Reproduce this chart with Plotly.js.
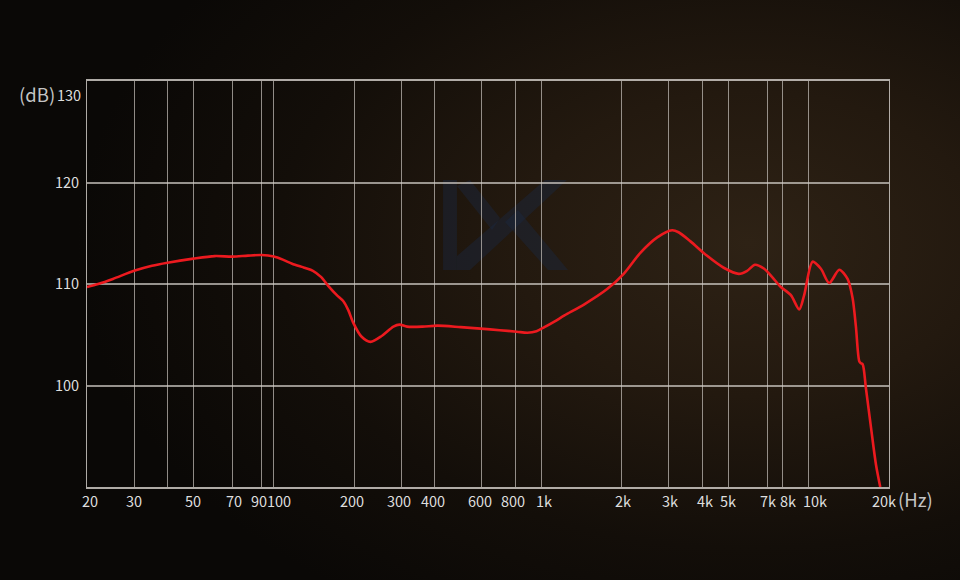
<!DOCTYPE html>
<html>
<head>
<meta charset="utf-8">
<script src="https://cdn.plot.ly/plotly-3.0.1.min.js"></script>
<style>
  html, body { margin: 0; padding: 0; width: 960px; height: 580px; overflow: hidden; background: #0a0806; }
  #chart {
    width: 960px; height: 580px;
    background:
      radial-gradient(ellipse 70% 75% at 78% 42%, #2e2215 0%, #23190f 35%, #130e09 70%, #0a0806 100%);
  }
</style>
</head>
<body>
<div id="chart"></div>
<script>
// Frequency response (Hz, dB)
const freqHz = [20, 22, 25, 30, 35, 40, 50, 60, 70, 80, 90, 100, 108, 117, 130, 140, 150, 160, 172, 182, 190, 198, 213, 230, 254, 280, 295, 315, 360, 409, 500, 594, 700, 811, 888, 960, 1028, 1120, 1222, 1450, 1765, 2035, 2354, 2717, 3088, 3266, 3618, 4164, 4816, 5489, 5895, 6308, 6824, 7300, 7880, 8592, 9228, 9632, 10358, 11126, 11952, 13030, 14000, 14620, 15040, 15480, 15700, 15940, 16400, 17140, 17880, 18550];
const levelDb = [109.7, 110.0, 110.5, 111.3, 111.8, 112.1, 112.5, 112.75, 112.7, 112.8, 112.85, 112.7, 112.4, 112.0, 111.6, 111.3, 110.7, 109.8, 108.9, 108.3, 107.4, 106.2, 104.8, 104.3, 104.9, 105.8, 106.0, 105.8, 105.8, 105.9, 105.75, 105.6, 105.45, 105.3, 105.2, 105.35, 105.75, 106.3, 106.9, 108.0, 109.5, 111.0, 113.1, 114.6, 115.3, 115.1, 114.2, 112.8, 111.6, 111.0, 111.3, 111.9, 111.5, 110.7, 109.7, 108.9, 107.5, 108.9, 112.2, 111.5, 110.1, 111.4, 110.5, 108.6, 105.8, 102.4, 102.2, 102.1, 99.7, 95.8, 92.2, 90.0];

const xTickVals = [20, 30, 40, 50, 70, 90, 100, 200, 300, 400, 600, 800, 1000, 2000, 3000, 4000, 5000, 7000, 8000, 10000, 20000];
const xTickText = ['20', '30', '', '50', '70', '90', '100', '200', '300', '400', '600', '800', '1k', '2k', '3k', '4k', '5k', '7k', '8k', '10k', '20k'];
const yTickVals = [100, 110, 120];
const yTickText = ['100', '110', '120'];

// small horizontal nudges of x labels, as in the reference artwork (px)
const xLabelNudge = [3, 0, 0, 0, 2, -3, 5.5, -2, -2, -2, -2, -2, 3, 1.5, 1, 3, 0, 1, 5, 6, -5.5];

const labelFont = { family: '"Noto Sans CJK SC", "Noto Sans", sans-serif', size: 14.5, color: '#dedede' };
const unitFont = { family: '"Noto Sans CJK SC", "Noto Sans", sans-serif', size: 18.5, color: '#c4c4c4' };

// KZ watermark (paper coordinates, faint)
function P(px, py) { return ((px - 87) / 802).toFixed(4) + ',' + ((487 - py) / 406).toFixed(4); }
const logoColor = 'rgba(26,40,66,0.42)';
const logoShapes = [
  'M' + P(443,180) + ' L' + P(457,180) + ' L' + P(457,270) + ' L' + P(443,270) + ' Z',
  'M' + P(457,186) + ' L' + P(470,180) + ' L' + P(500,218) + ' L' + P(492,230) + ' Z',
  'M' + P(545,180) + ' L' + P(567,180) + ' L' + P(470,270) + ' L' + P(457,270) + ' L' + P(457,256) + ' Z',
  'M' + P(505,222) + ' L' + P(518,210) + ' L' + P(568,270) + ' L' + P(548,270) + ' Z'
].map(p => ({ type: 'path', path: p, xref: 'paper', yref: 'paper', fillcolor: logoColor, line: { width: 0 }, layer: 'below' }));

const trace = {
  x: freqHz, y: levelDb, type: 'scatter', mode: 'lines',
  line: { color: '#ec1a1f', width: 2.6, shape: 'spline', smoothing: 0.8 },
  hoverinfo: 'skip'
};

const xLabelAnnotations = xTickVals.map((v, i) => ({
  text: xTickText[i], xref: 'x', yref: 'paper', x: Math.log10(v), y: 0,
  yshift: -13, xshift: xLabelNudge[i], xanchor: 'center', yanchor: 'middle',
  showarrow: false, font: labelFont
})).filter(a => a.text !== '');

const layout = {
  width: 960, height: 580,
  margin: { l: 87, r: 71, t: 81, b: 93, pad: 0 },
  paper_bgcolor: 'rgba(0,0,0,0)',
  plot_bgcolor: 'rgba(0,0,0,0)',
  showlegend: false,
  xaxis: {
    type: 'log', range: [Math.log10(20), Math.log10(20000)],
    tickvals: xTickVals, ticktext: xTickText, showticklabels: false,
    showgrid: true, gridcolor: 'rgba(195,190,185,0.72)', gridwidth: 1,
    showline: true, linecolor: 'rgba(205,200,195,0.85)', linewidth: 2, mirror: true,
    ticks: '', zeroline: false, fixedrange: true
  },
  yaxis: {
    range: [90, 130],
    tickvals: yTickVals, ticktext: yTickText,
    showgrid: true, gridcolor: 'rgba(210,205,200,0.7)', gridwidth: 2,
    showline: true, linecolor: 'rgba(205,200,195,0.85)', linewidth: 1, mirror: true,
    ticks: '', tickfont: labelFont, ticklabelstandoff: 4, zeroline: false, fixedrange: true
  },
  shapes: logoShapes,
  annotations: xLabelAnnotations.concat([
    { text: '130', xref: 'paper', yref: 'paper', x: (83 - 87) / 802, y: (487 - 95) / 406, xanchor: 'right', yanchor: 'middle', showarrow: false, font: labelFont },
    { text: '(dB)', xref: 'paper', yref: 'paper', x: (57 - 87) / 802, y: (487 - 94) / 406, xanchor: 'right', yanchor: 'middle', showarrow: false, font: unitFont },
    { text: '(Hz)', xref: 'paper', yref: 'paper', x: (896 - 87) / 802, y: (487 - 499) / 406, xanchor: 'left', yanchor: 'middle', showarrow: false, font: unitFont }
  ])
};

Plotly.newPlot('chart', [trace], layout, { displayModeBar: false, staticPlot: true });
</script>
</body>
</html>
